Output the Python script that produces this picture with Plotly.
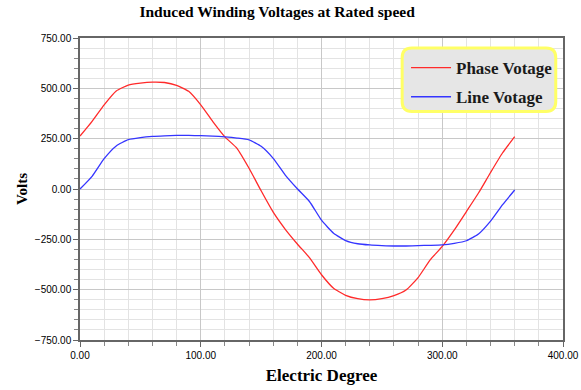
import plotly.graph_objects as go

degrees = list(range(0, 361, 10))
phase_voltage = [263, 336, 418, 487, 516, 526, 531, 529, 515, 485,
                 418, 335, 259, 202, 103, -9, -115, -200, -273, -341,
                 -426, -493, -528, -545, -551, -545, -530, -502, -440, -352,
                 -285, -203, -112, -20, 82, 180, 260]
line_voltage = [0, 63, 151, 214, 245, 255, 261, 264, 266, 266,
                265, 263, 259, 253, 244, 212, 152, 69, 1, -62,
                -155, -220, -256, -272, -278, -281, -283, -283, -281, -280,
                -278, -270, -257, -224, -160, -78, -5]

SERIF = "Liberation Serif, Times New Roman, serif"
SANS = "Liberation Sans, Arial, sans-serif"

fig = go.Figure()
fig.add_trace(go.Scatter(x=degrees, y=phase_voltage, mode="lines", name="Phase Votage",
                         line=dict(color="#ff2a2a", width=1.3, shape="spline", smoothing=0.5),
                         legendgroup="a"))
fig.add_trace(go.Scatter(x=degrees, y=line_voltage, mode="lines", name="Line Votage",
                         line=dict(color="#3535ff", width=1.3, shape="spline", smoothing=0.5),
                         legendgroup="b"))

# rounded legend box
x0, x1, y0, y1 = 0.667, 0.985, 0.757, 0.967
rx, ry = 0.02, 0.032
path = (f"M {x0+rx},{y0} L {x1-rx},{y0} Q {x1},{y0} {x1},{y0+ry} L {x1},{y1-ry} "
        f"Q {x1},{y1} {x1-rx},{y1} L {x0+rx},{y1} Q {x0},{y1} {x0},{y1-ry} "
        f"L {x0},{y0+ry} Q {x0},{y0} {x0+rx},{y0} Z")
fig.add_shape(type="path", path=path, xref="paper", yref="paper",
              fillcolor="#e6e6e6", line=dict(color="#ffff66", width=3), layer="above")

fig.update_layout(
    width=581, height=390,
    margin=dict(l=80, r=18, t=38, b=50, autoexpand=False),
    paper_bgcolor="white", plot_bgcolor="white",
    title=dict(text="Induced Winding Voltages at Rated speed", x=0.477, xref="container",
               xanchor="center", y=0.97, yref="container", yanchor="middle",
               font=dict(family=SERIF, size=15.5, color="black", weight="bold")),
    showlegend=True,
    legend=dict(x=0.675, y=0.96, xanchor="left", yanchor="top",
                bgcolor="rgba(0,0,0,0)", borderwidth=0, itemwidth=40,
                font=dict(family=SERIF, size=17, color="#1a1a1a", weight="bold"),
                tracegroupgap=4, traceorder="grouped"),
    xaxis=dict(range=[0, 400], dtick=100, tickformat=".2f", automargin=False,
               showgrid=True, gridcolor="#c8c8c8", gridwidth=1,
               zeroline=False, showline=True, linecolor="#666666", linewidth=1.5, mirror=True,
               ticks="outside", ticklen=5, tickcolor="#666666",
               minor=dict(dtick=20, showgrid=True, gridcolor="#e3e3e3", ticks="outside",
                          ticklen=4, tickcolor="#888888"),
               tickfont=dict(family=SANS, size=10, color="black"),
               title=dict(text="Electric Degree", standoff=9,
                          font=dict(family=SERIF, size=17, color="black", weight="bold"))),
    yaxis=dict(range=[-750, 750], dtick=250, tickformat=".2f", automargin=False,
               showgrid=True, gridcolor="#c8c8c8", gridwidth=1,
               zeroline=False, showline=True, linecolor="#666666", linewidth=1.5, mirror=True,
               ticks="outside", ticklen=5, tickcolor="#666666",
               minor=dict(dtick=50, showgrid=True, gridcolor="#e3e3e3", ticks="outside",
                          ticklen=4, tickcolor="#888888"),
               tickfont=dict(family=SANS, size=10, color="black"),
               title=dict(text="Volts", standoff=4,
                          font=dict(family=SERIF, size=15, color="black", weight="bold"))),
)

fig.write_html("out.html", config={"displayModeBar": False},
               post_script="document.body.style.margin='0';")
